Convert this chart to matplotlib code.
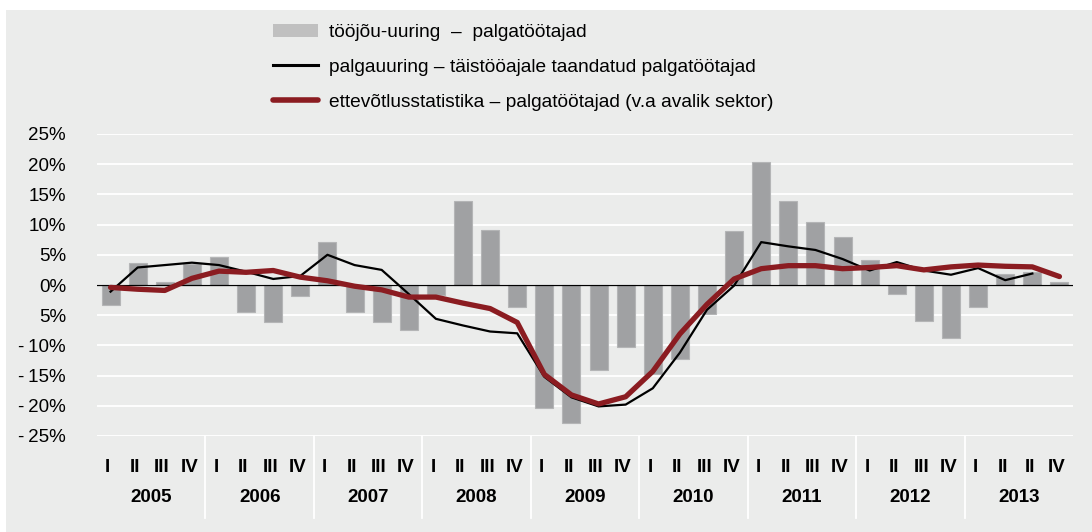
import matplotlib
matplotlib.use("Agg")
import matplotlib.pyplot as plt
import matplotlib.transforms as mtransforms
from matplotlib.patches import Rectangle, Patch
from matplotlib.lines import Line2D
import numpy as np

plt.rcParams['font.family'] = ['Liberation Sans', 'DejaVu Sans']

# ---------------- data ----------------
years = ["2005", "2006", "2007", "2008", "2009", "2010", "2011", "2012", "2013"]
quarter_labels = (["I", "II", "III", "IV"] * 8) + ["I", "II", "II", "IV"]

labour_force_survey = [
    -3.3, 3.6, 0.5, 3.5,
    4.6, -4.4, -6.1, -1.8,
    7.1, -4.4, -6.1, -7.5,
    -1.7, 13.9, 9.1, -3.7,
    -20.3, -22.8, -14.1, -10.2,
    -14.7, -12.3, -4.8, 8.9,
    20.3, 13.9, 10.4, 7.9,
    4.2, -1.5, -6.0, -8.7,
    -3.6, 1.8, 2.1, 0.55,
]
wage_survey = [
    -1.1, 2.9, 3.3, 3.7,
    3.3, 2.2, 1.0, 1.5,
    5.0, 3.3, 2.5, -1.5,
    -5.6, -6.7, -7.7, -8.0,
    -15.2, -18.6, -20.1, -19.8,
    -17.1, -11.2, -4.1, -0.1,
    7.1, 6.4, 5.8, 4.3,
    2.4, 3.8, 2.4, 1.7,
    2.8, 0.8, 1.9, np.nan,
]
business_stats = [
    -0.4, -0.7, -0.9, 1.1,
    2.3, 2.1, 2.4, 1.3,
    0.7, -0.2, -0.8, -2.0,
    -2.0, -3.0, -3.9, -6.2,
    -14.8, -18.2, -19.7, -18.5,
    -14.3, -8.1, -3.2, 1.0,
    2.7, 3.2, 3.2, 2.7,
    2.9, 3.2, 2.5, 3.0,
    3.3, 3.1, 3.0, 1.4,
]
yticks = [25, 20, 15, 10, 5, 0, -5, -10, -15, -20, -25]
ytick_labels = ["25%", "20%", "15%", "10%", "5%", "0%", "5%",
                "-\u200910%", "-\u200915%", "-\u200920%", "-\u200925%"]
legend_labels = ["tööjõu-uuring  \u2013  palgatöötajad",
                 "palgauuring \u2013 täistööajale taandatud palgatöötajad",
                 "ettevõtlusstatistika \u2013 palgatöötajad (v.a avalik sektor)"]

# ---------------- style ----------------
BG = '#ebeceb'
BAR = '#a0a1a3'
BAR_EDGE = '#b4b5b6'
RED = '#8b1c21'

W, H = 1092, 532
fig = plt.figure(figsize=(W / 100, H / 100), dpi=100, facecolor='white')
fig.patches.append(Rectangle((6 / W, 0), 1, 1 - 10 / H, transform=fig.transFigure,
                             facecolor=BG, edgecolor='none', zorder=-10))

left, right = 97 / W, 1073 / W
bottom, top = 1 - 436 / H, 1 - 134 / H
ax = fig.add_axes([left, bottom, right - left, top - bottom])
ax.set_facecolor(BG)

x = np.arange(len(labour_force_survey))
ax.bar(x, labour_force_survey, width=0.66, color=BAR, edgecolor=BAR_EDGE,
       linewidth=0.8, zorder=2)
ax.axhline(0, color='black', lw=0.9, zorder=2.5)
ax.plot(x, wage_survey, color='black', lw=1.6, zorder=3)
ax.plot(x, business_stats, color=RED, lw=3.8, zorder=4,
        solid_joinstyle='round', solid_capstyle='round')

ax.set_xlim(-0.5, len(x) - 0.5)
ax.set_ylim(-25, 25)
ax.set_yticks(yticks)
ax.set_yticklabels(ytick_labels, fontsize=13.5)
ax.tick_params(axis='y', length=0, pad=31 * 0.72)
ax.set_xticks([])
ax.yaxis.grid(True, color='white', lw=1.3)
ax.set_axisbelow(True)
for s in ax.spines.values():
    s.set_visible(False)

trans = mtransforms.blended_transform_factory(ax.transData, ax.transAxes)
axh = 436 - 134
for i, q in enumerate(quarter_labels):
    ax.text(i - 0.1, -32 / axh, q, transform=trans, ha='center', va='center',
            fontsize=13.5, fontweight='bold')
for k, yr in enumerate(years):
    ax.text(4 * k + 1.5, -62 / axh, yr, transform=trans, ha='center', va='center',
            fontsize=13.5, fontweight='bold')
for k in range(1, len(years)):
    ax.plot([4 * k - 0.5] * 2, [0, -82 / axh], transform=trans, color='white',
            lw=1.3, clip_on=False, zorder=1)

handles = [Patch(facecolor='#c0c0c0', edgecolor='none'),
           Line2D([], [], color='black', lw=2.2),
           Line2D([], [], color=RED, lw=4.0, solid_capstyle='round')]
ax.legend(handles, legend_labels, loc='upper left',
          bbox_to_anchor=(273 / W, 1 - 24 / H), bbox_transform=fig.transFigure,
          frameon=False, fontsize=13.8, handlelength=2.35, handleheight=0.7,
          handletextpad=0.58, labelspacing=0.9, borderpad=0, borderaxespad=0)

fig.savefig('out.png', dpi=100, facecolor='white')
